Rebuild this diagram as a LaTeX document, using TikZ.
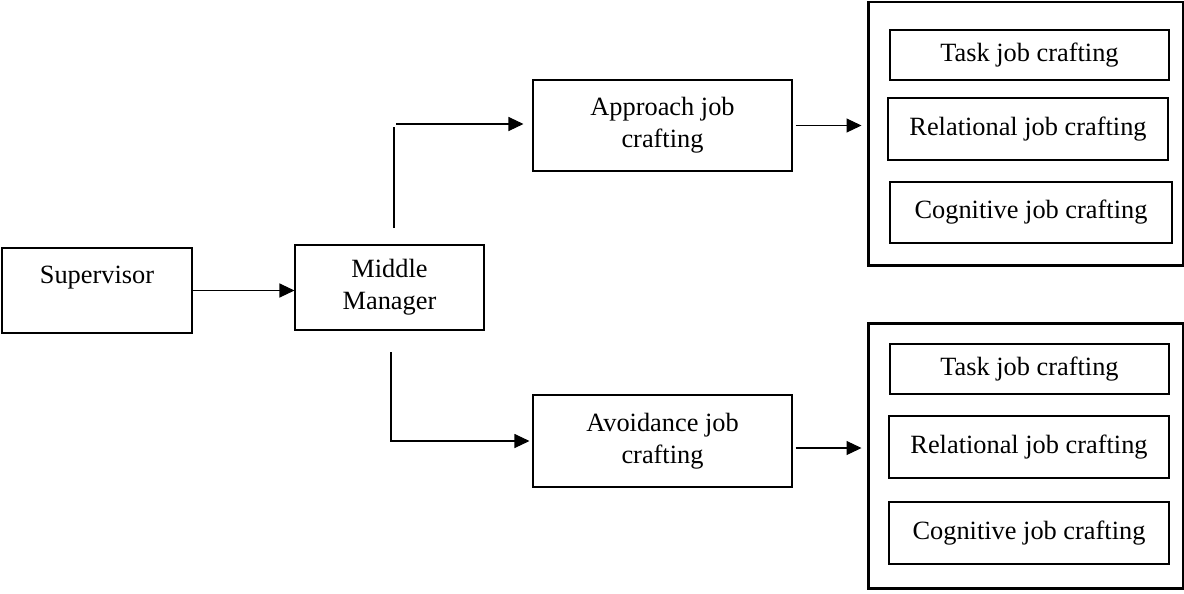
\documentclass[tikz,border=0pt]{standalone}
\usepackage{fontspec}
\setmainfont{Liberation Serif}
\usepackage{tikz}
\usetikzlibrary{arrows.meta}

\begin{document}
\begin{tikzpicture}[every node/.style={font=\fontsize{15}{18.2}\selectfont},
    box/.style={draw, line width=0.6pt, inner sep=0pt, align=center},
    outerbox/.style={draw, line width=1.7pt, inner sep=0pt},
    arr/.style={-{Triangle[length=0.3cm,width=0.28cm]}, line width=0.6pt}]
    \useasboundingbox (0,0) rectangle (23.68,-11.86);
    % Left side
        \node[box, minimum width=3.8cm, minimum height=1.7cm] (sup) at (1.94,-5.81) {Supervisor\\\mbox{}};
        \node[box, minimum width=3.78cm, minimum height=1.7cm] (mm) at (7.79,-5.75) {Middle\\Manager};
        \draw[arr] (sup.east) -- (sup.east -| mm.west);
    % Approach
        \node[box, minimum width=5.18cm, minimum height=1.82cm] (appr) at (13.25,-2.51) {Approach job\\crafting};
        \coordinate (up1) at (7.88,-4.56);
        \coordinate (up2) at (7.88,-2.54);
        \coordinate (up3) at (7.92,-2.48);
        \draw[line width=0.6pt] (up1) -- (up2);
        \draw[arr, shorten >=0.18cm] (up3) -- (up3 -| appr.west);
    % Avoidance
        \node[box, minimum width=5.18cm, minimum height=1.84cm] (avoid) at (13.25,-8.82) {Avoidance job\\crafting};
        \coordinate (lo1) at (7.82,-7.04);
        \draw[arr, shorten >=0.06cm] (lo1) |- (avoid.west);
    % Outcomes 1
        \node[outerbox, minimum width=6.3cm, minimum height=5.26cm] (out1) at (20.51,-2.67) {};
        \node[box, minimum width=5.58cm, minimum height=1cm] (task1) at (20.59,-1.1) {Task job crafting};
        \node[box, minimum width=5.6cm, minimum height=1.24cm] (rel1) at (20.56,-2.58) {Relational job crafting};
        \node[box, minimum width=5.64cm, minimum height=1.22cm] (cog1) at (20.62,-4.25) {Cognitive job crafting};
        \draw[arr, shorten <=0.06cm, shorten >=0.1cm] (appr.east) -- (appr.east -| out1.west);
    % Outcomes 2
        \node[outerbox, minimum width=6.3cm, minimum height=5.3cm] (out2) at (20.51,-9.11) {};
        \node[box, minimum width=5.58cm, minimum height=1cm] (task2) at (20.59,-7.38) {Task job crafting};
        \node[box, minimum width=5.6cm, minimum height=1.24cm] (rel2) at (20.58,-8.94) {Relational job crafting};
        \node[box, minimum width=5.6cm, minimum height=1.24cm] (cog2) at (20.58,-10.66) {Cognitive job crafting};
        \draw[arr, shorten <=0.06cm, shorten >=0.1cm] ([yshift=-0.14cm]avoid.east) -- ([yshift=-0.14cm]avoid.east -| out2.west);
    \end{tikzpicture}
\end{document}
